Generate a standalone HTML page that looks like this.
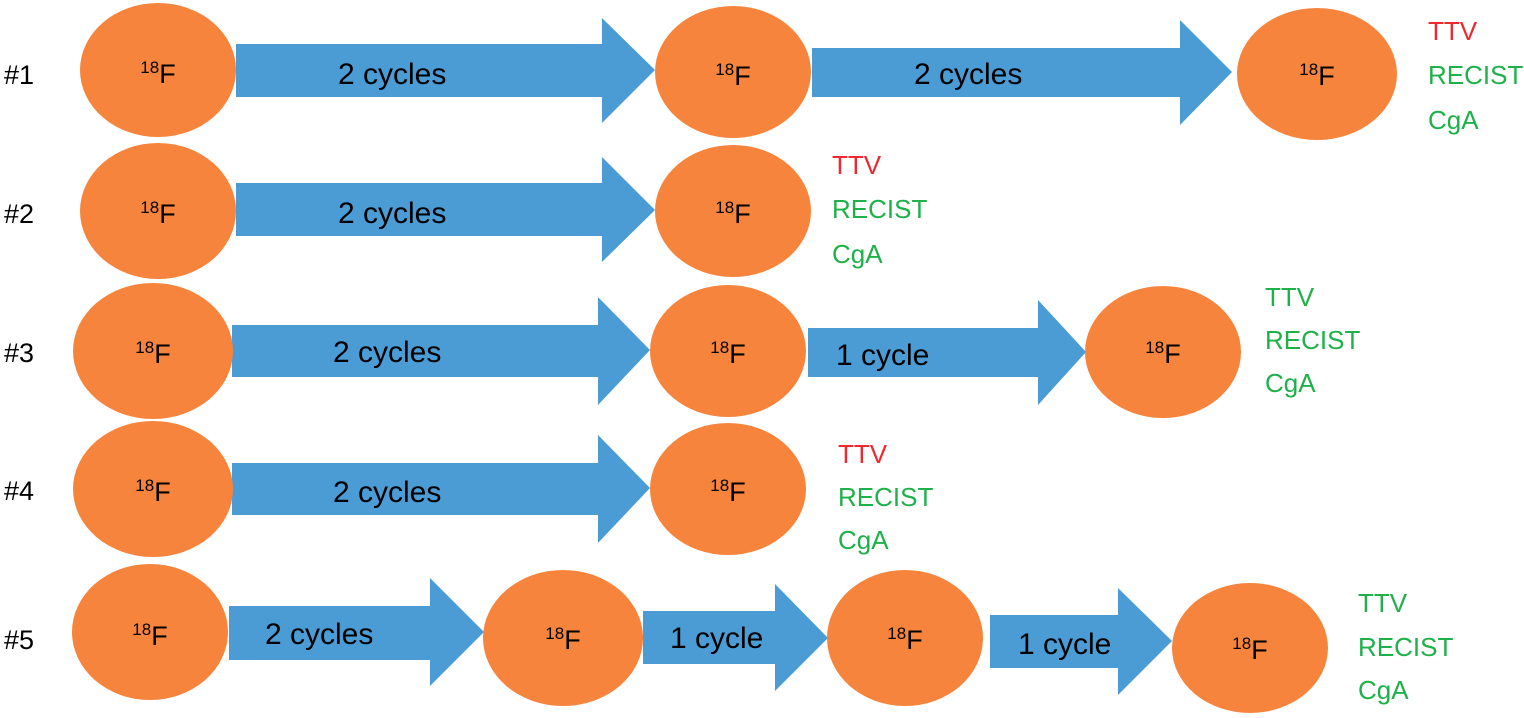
<!DOCTYPE html>
<html><head><meta charset="utf-8"><style>
html,body{margin:0;padding:0;background:#fff;}
svg{display:block;}
text{font-family:"Liberation Sans",sans-serif;}
</style></head><body>
<svg width="1524" height="718" viewBox="0 0 1524 718" xmlns="http://www.w3.org/2000/svg">
<g fill="#4b9bd5">
<polygon points="236,44 602,44 602,18 655,70 602,123 602,97 236,97"/>
<polygon points="812,48 1180,48 1180,20 1232,72 1180,125 1180,97 812,97"/>
<polygon points="236,183 602,183 602,157 655,210 602,262 602,236 236,236"/>
<polygon points="232,325 598,325 598,297 650,350 598,405 598,377 232,377"/>
<polygon points="808,328 1038,328 1038,300 1086,352 1038,405 1038,377 808,377"/>
<polygon points="232,463 598,463 598,435 650,488 598,543 598,515 232,515"/>
<polygon points="229,606 430,606 430,578 484,632 430,686 430,660 229,660"/>
<polygon points="643,611 775,611 775,584 828,638 775,691 775,664 643,664"/>
<polygon points="990,615 1118,615 1118,588 1172,641 1118,695 1118,668 990,668"/>
</g>
<g fill="#f6843c">
<ellipse cx="158" cy="70" rx="78" ry="67"/>
<ellipse cx="733" cy="72" rx="78" ry="66"/>
<ellipse cx="1317" cy="74" rx="80" ry="66"/>
<ellipse cx="158" cy="211" rx="78" ry="68"/>
<ellipse cx="733" cy="211" rx="78" ry="66"/>
<ellipse cx="153" cy="351" rx="80" ry="68"/>
<ellipse cx="728" cy="351" rx="78" ry="66"/>
<ellipse cx="1163" cy="352" rx="78" ry="66"/>
<ellipse cx="153" cy="489" rx="80" ry="68"/>
<ellipse cx="728" cy="489" rx="78" ry="66"/>
<ellipse cx="150" cy="632" rx="78" ry="68"/>
<ellipse cx="563" cy="638" rx="80" ry="68"/>
<ellipse cx="905" cy="638" rx="78" ry="68"/>
<ellipse cx="1250" cy="648" rx="78" ry="65"/>
</g>
<g font-size="27" fill="#000" text-anchor="middle">
<text x="158" y="83"><tspan font-size="17" dy="-10">18</tspan><tspan dy="10">F</tspan></text>
<text x="733" y="85"><tspan font-size="17" dy="-10">18</tspan><tspan dy="10">F</tspan></text>
<text x="1317" y="85"><tspan font-size="17" dy="-10">18</tspan><tspan dy="10">F</tspan></text>
<text x="158" y="223"><tspan font-size="17" dy="-10">18</tspan><tspan dy="10">F</tspan></text>
<text x="733" y="223"><tspan font-size="17" dy="-10">18</tspan><tspan dy="10">F</tspan></text>
<text x="153" y="363"><tspan font-size="17" dy="-10">18</tspan><tspan dy="10">F</tspan></text>
<text x="728" y="363"><tspan font-size="17" dy="-10">18</tspan><tspan dy="10">F</tspan></text>
<text x="1163" y="363"><tspan font-size="17" dy="-10">18</tspan><tspan dy="10">F</tspan></text>
<text x="153" y="501"><tspan font-size="17" dy="-10">18</tspan><tspan dy="10">F</tspan></text>
<text x="728" y="501"><tspan font-size="17" dy="-10">18</tspan><tspan dy="10">F</tspan></text>
<text x="150" y="645"><tspan font-size="17" dy="-10">18</tspan><tspan dy="10">F</tspan></text>
<text x="563" y="649"><tspan font-size="17" dy="-10">18</tspan><tspan dy="10">F</tspan></text>
<text x="905" y="649"><tspan font-size="17" dy="-10">18</tspan><tspan dy="10">F</tspan></text>
<text x="1250" y="659"><tspan font-size="17" dy="-10">18</tspan><tspan dy="10">F</tspan></text>
</g>
<g font-size="30" fill="#000">
<text x="338" y="84">2 cycles</text>
<text x="914" y="84">2 cycles</text>
<text x="338" y="223">2 cycles</text>
<text x="333" y="362">2 cycles</text>
<text x="836" y="365">1 cycle</text>
<text x="333" y="502">2 cycles</text>
<text x="265" y="644">2 cycles</text>
<text x="670" y="648">1 cycle</text>
<text x="1018" y="654">1 cycle</text>
</g>
<g font-size="27" fill="#000">
<text x="4" y="84">#1</text>
<text x="4" y="223">#2</text>
<text x="4" y="362">#3</text>
<text x="4" y="500">#4</text>
<text x="4" y="649">#5</text>
</g>
<g font-size="26">
<text x="1428" y="40" fill="#f0282d">TTV</text>
<text x="1428" y="84" fill="#1eb14a">RECIST</text>
<text x="1428" y="129" fill="#1eb14a">CgA</text>
<text x="832" y="174" fill="#f0282d">TTV</text>
<text x="832" y="218" fill="#1eb14a">RECIST</text>
<text x="832" y="263" fill="#1eb14a">CgA</text>
<text x="1265" y="306" fill="#1eb14a">TTV</text>
<text x="1265" y="349" fill="#1eb14a">RECIST</text>
<text x="1265" y="392" fill="#1eb14a">CgA</text>
<text x="838" y="463" fill="#f0282d">TTV</text>
<text x="838" y="506" fill="#1eb14a">RECIST</text>
<text x="838" y="549" fill="#1eb14a">CgA</text>
<text x="1358" y="612" fill="#1eb14a">TTV</text>
<text x="1358" y="656" fill="#1eb14a">RECIST</text>
<text x="1358" y="699" fill="#1eb14a">CgA</text>
</g>
</svg>
</body></html>
